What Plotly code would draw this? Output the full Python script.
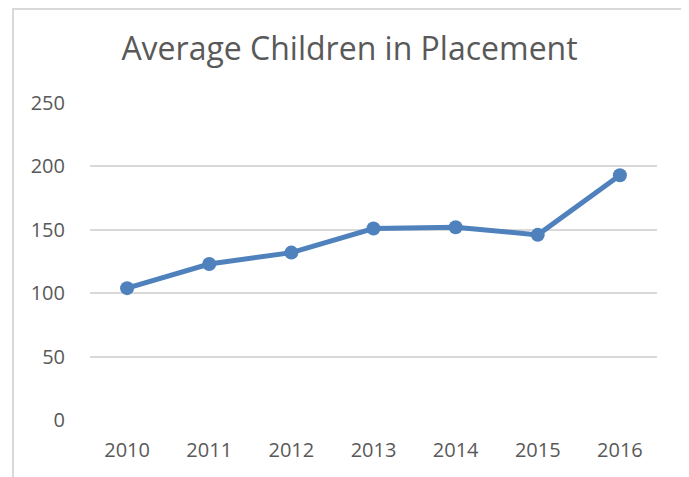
import plotly.graph_objects as go

years = ["2010", "2011", "2012", "2013", "2014", "2015", "2016"]
avg_children = [104, 123, 132, 151, 152, 146, 193]
y_ticks = [0, 50, 100, 150, 200, 250]

OFF = 8  # page body margin offset (figure starts at page x=8, y=8)
W, H = 689 - OFF, 477 - OFF
L, R, T, B = 90 - OFF, 32, 103 - OFF, 57
pw, ph = W - L - R, H - T - B

def px_x(p):
    return (p - OFF - L) / pw

def px_y(p):
    return (H - B - (p - OFF)) / ph

fig = go.Figure()
fig.add_trace(go.Scatter(
    x=years, y=avg_children, mode="lines+markers",
    line=dict(color="#4f81bd", width=5),
    marker=dict(color="#4f81bd", size=14),
    showlegend=False, hoverinfo="x+y",
))

font_fam = "Open Sans, Noto Sans, sans-serif"
fig.update_layout(
    width=W, height=H,
    margin=dict(l=L, r=R, t=T, b=B),
    paper_bgcolor="white", plot_bgcolor="white",
    title=dict(text="Average Children in Placement", x=(349.5 - OFF) / W, xanchor="center",
               y=1 - (49 - OFF) / H, yanchor="middle", yref="container",
               font=dict(family=font_fam, size=32, color="#595959")),
    xaxis=dict(type="category", showgrid=False, zeroline=False, showline=False,
               ticks="outside", ticklen=12, tickcolor="rgba(0,0,0,0)",
               tickfont=dict(family=font_fam, size=20, color="#595959")),
    yaxis=dict(range=[0, 250], tickvals=y_ticks, showgrid=True, gridcolor="#d9d9d9",
               gridwidth=1.5, zeroline=False, showline=False,
               ticks="outside", ticklen=20, tickcolor="rgba(0,0,0,0)",
               tickfont=dict(family=font_fam, size=20, color="#595959")),
    shapes=[dict(type="path", xref="paper", yref="paper",
                 path=f"M {px_x(13)} {px_y(490)} L {px_x(13)} {px_y(9)} L {px_x(684)} {px_y(9)} L {px_x(684)} {px_y(490)}",
                 line=dict(color="#d9d9d9", width=2), layer="below")],
)
fig.write_html("out.html")
